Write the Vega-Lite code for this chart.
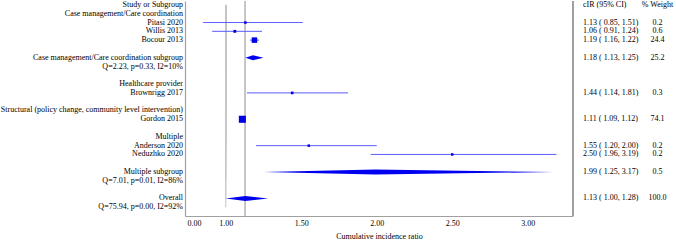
{
  "$schema": "https://vega.github.io/schema/vega-lite/v6.json",
  "padding": 0,
  "spacing": 0,
  "bounds": "flush",
  "background": "white",
  "config": {
    "view": {"stroke": null},
    "font": "Liberation Serif",
    "text": {"font": "Liberation Serif", "fontSize": 8, "color": "#000000"}
  },
  "datasets": {
    "forest": [
      {"row": 0, "label": "Study or Subgroup", "ci": "cIR (95% CI)", "wt": "% Weight", "type": "header"},
      {"row": 1, "label": "Case management/Care coordination", "type": "group"},
      {"row": 2, "label": "Pitasi 2020", "est": 1.13, "lo": 0.85, "hi": 1.51, "weight": 0.2, "ci": "1.13 ( 0.85, 1.51)", "wt": "0.2", "type": "study"},
      {"row": 3, "label": "Willis 2013", "est": 1.06, "lo": 0.91, "hi": 1.24, "weight": 0.6, "ci": "1.06 ( 0.91, 1.24)", "wt": "0.6", "type": "study"},
      {"row": 4, "label": "Bocour 2013", "est": 1.19, "lo": 1.16, "hi": 1.22, "weight": 24.4, "ci": "1.19 ( 1.16, 1.22)", "wt": "24.4", "type": "study"},
      {"row": 6, "label": "Case management/Care coordination subgroup", "est": 1.18, "lo": 1.13, "hi": 1.25, "weight": 25.2, "ci": "1.18 ( 1.13, 1.25)", "wt": "25.2", "type": "pooled"},
      {"row": 7, "label": "Q=2.23, p=0.33, I2=10%", "type": "stat"},
      {"row": 9, "label": "Healthcare provider", "type": "group"},
      {"row": 10, "label": "Brownrigg 2017", "est": 1.44, "lo": 1.14, "hi": 1.81, "weight": 0.3, "ci": "1.44 ( 1.14, 1.81)", "wt": "0.3", "type": "study"},
      {"row": 12, "label": "Structural (policy change, community level intervention)", "type": "group"},
      {"row": 13, "label": "Gordon 2015", "est": 1.11, "lo": 1.09, "hi": 1.12, "weight": 74.1, "ci": "1.11 ( 1.09, 1.12)", "wt": "74.1", "type": "study"},
      {"row": 15, "label": "Multiple", "type": "group"},
      {"row": 16, "label": "Anderson 2020", "est": 1.55, "lo": 1.20, "hi": 2.00, "weight": 0.2, "ci": "1.55 ( 1.20, 2.00)", "wt": "0.2", "type": "study"},
      {"row": 17, "label": "Neduzhko 2020", "est": 2.50, "lo": 1.96, "hi": 3.19, "weight": 0.2, "ci": "2.50 ( 1.96, 3.19)", "wt": "0.2", "type": "study"},
      {"row": 19, "label": "Multiple subgroup", "est": 1.99, "lo": 1.25, "hi": 3.17, "weight": 0.5, "ci": "1.99 ( 1.25, 3.17)", "wt": "0.5", "type": "pooled"},
      {"row": 20, "label": "Q=7.01, p=0.01, I2=86%", "type": "stat"},
      {"row": 22, "label": "Overall", "est": 1.13, "lo": 1.00, "hi": 1.28, "weight": 100.0, "ci": "1.13 ( 1.00, 1.28)", "wt": "100.0", "type": "pooled"},
      {"row": 23, "label": "Q=75.94, p=0.00, I2=92%", "type": "stat"}
    ]
  },
  "hconcat": [
    {
      "width": 185,
      "height": 215,
      "data": {"name": "forest"},
      "mark": {"type": "text", "align": "right", "baseline": "middle", "dx": -2, "color": "#000000"},
      "encoding": {
        "x": {"datum": 1, "type": "quantitative", "scale": {"domain": [0, 1], "nice": false}, "axis": null},
        "y": {"field": "row", "type": "quantitative", "scale": {"domain": [-0.45, 24.0], "reverse": true, "nice": false, "zero": false}, "axis": null},
        "text": {"field": "label"}
      }
    },
    {
      "width": 388,
      "height": 215,
      "data": {"name": "forest"},
      "layer": [
        {
          "mark": {"type": "rule", "color": "#c4c4c4", "strokeWidth": 1},
          "encoding": {
            "x": {"datum": 1, "type": "quantitative", "scale": {"domain": [0.73, 3.30], "nice": false, "zero": false},
              "axis": {"values": [0.79, 1, 1.5, 2, 2.5, 3], "labelExpr": "datum.value < 0.9 ? '0.00' : format(datum.value, '.2f')",
                "ticks": false, "grid": false, "domainColor": "#a0a0a0", "domainWidth": 1.2,
                "labelFont": "Liberation Serif", "labelFontSize": 8, "labelColor": "#000000", "labelPadding": 3,
                "title": "Cumulative incidence ratio", "titleFont": "Liberation Serif", "titleFontSize": 8,
                "titleFontWeight": "normal", "titleColor": "#000000", "titlePadding": 5}},
            "y": {"field": "row", "type": "quantitative", "scale": {"domain": [-0.45, 24.0], "reverse": true, "nice": false, "zero": false},
              "axis": {"labels": false, "ticks": false, "grid": false, "title": null, "domainColor": "#a0a0a0", "domainWidth": 1.2}}
          }
        },
        {
          "mark": {"type": "rule", "color": "#c4c4c4", "strokeWidth": 1},
          "encoding": {"x": {"datum": 1.13, "type": "quantitative"}}
        },
        {
          "mark": {"type": "rule", "color": "#a0a0a0", "strokeWidth": 1.2},
          "encoding": {"x": {"datum": 3.30, "type": "quantitative"}}
        },
        {
          "transform": [{"filter": "datum.type == 'study'"}],
          "mark": {"type": "rule", "color": "#5c5cff", "strokeWidth": 1},
          "encoding": {
            "x": {"field": "lo", "type": "quantitative"},
            "x2": {"field": "hi"},
            "y": {"field": "row", "type": "quantitative"}
          }
        },
        {
          "transform": [{"filter": "datum.type == 'study'"}],
          "mark": {"type": "square", "color": "#0000e6", "opacity": 1},
          "encoding": {
            "x": {"field": "est", "type": "quantitative"},
            "y": {"field": "row", "type": "quantitative"},
            "size": {"field": "weight", "type": "quantitative", "scale": {"type": "sqrt", "domain": [0, 74.1], "range": [4, 50]}, "legend": null}
          }
        },
        {
          "transform": [
            {"filter": "datum.type == 'pooled'"},
            {"fold": ["lo", "est", "hi"], "as": ["k", "xv"]},
            {"calculate": "datum.k == 'est' ? 0.28 : 0", "as": "h"},
            {"calculate": "datum.row - datum.h", "as": "yt"},
            {"calculate": "datum.row + datum.h", "as": "yb"}
          ],
          "mark": {"type": "area", "orient": "vertical", "color": "#0000f0", "opacity": 1},
          "encoding": {
            "x": {"field": "xv", "type": "quantitative"},
            "y": {"field": "yt", "type": "quantitative"},
            "y2": {"field": "yb"},
            "detail": {"field": "row"}
          }
        }
      ]
    },
    {
      "width": 103,
      "height": 215,
      "data": {"name": "forest"},
      "transform": [{"filter": "isValid(datum.ci)"}],
      "encoding": {
        "y": {"field": "row", "type": "quantitative", "scale": {"domain": [-0.45, 24.0], "reverse": true, "nice": false, "zero": false}, "axis": null}
      },
      "layer": [
        {
          "mark": {"type": "text", "align": "left", "baseline": "middle", "color": "#000000"},
          "encoding": {
            "x": {"datum": 0.097, "type": "quantitative", "scale": {"domain": [0, 1], "nice": false}, "axis": null},
            "text": {"field": "ci"}
          }
        },
        {
          "mark": {"type": "text", "align": "center", "baseline": "middle", "color": "#000000"},
          "encoding": {
            "x": {"datum": 0.82, "type": "quantitative"},
            "text": {"field": "wt"}
          }
        }
      ]
    }
  ]
}
